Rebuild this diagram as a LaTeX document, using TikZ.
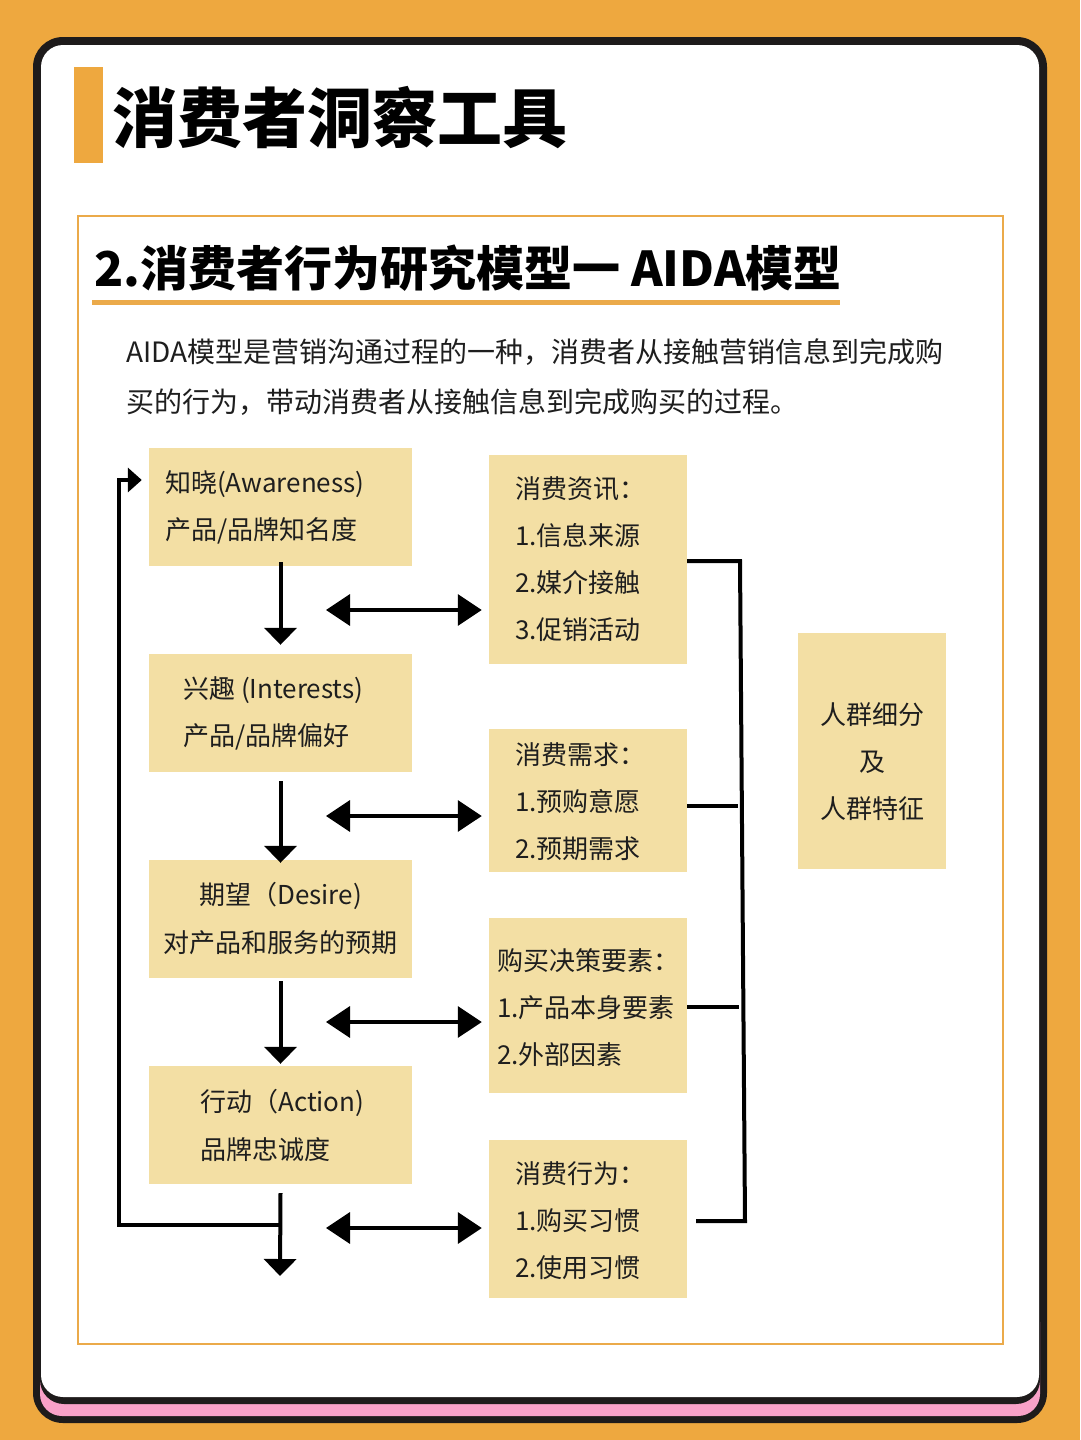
\documentclass[tikz,border=0pt]{standalone}
\usepackage{fontspec}
\setmainfont{Noto Sans CJK SC}
\usetikzlibrary{arrows.meta,calc}
\definecolor{bgorange}{HTML}{EEA83F}
\definecolor{boxfill}{HTML}{F3DFA4}
\definecolor{pinkb}{HTML}{F9A1C8}
\definecolor{cardblack}{HTML}{1E1B1B}
\definecolor{txt}{HTML}{1E1E1E}
\definecolor{lineorange}{HTML}{EBAA4A}
\begin{document}
\begin{tikzpicture}[x=1pt,y=-1pt,
  box/.style={draw=none,fill=boxfill,inner sep=0pt,rectangle},
  lbl/.style={anchor=west,inner sep=0pt,text=txt,font=\fontsize{26}{30}\selectfont},
  clbl/.style={lbl,anchor=center},
  para/.style={anchor=west,inner sep=0pt,text=txt,font=\fontsize{28}{30}\selectfont},
  downarr/.style={line width=4pt,-{Triangle[length=17pt,width=32pt]}},
  dblarr/.style={line width=3.5pt,{Triangle[length=24pt,width=31pt]}-{Triangle[length=24pt,width=31pt]}},
  backarr/.style={line width=4pt,-{Triangle[length=14pt,width=24pt]}},
  brk/.style={line width=4pt}]
% background
\fill[bgorange] (0,0) rectangle (1080,1440);
\useasboundingbox (0,0) rectangle (1080,1440);
% card
\fill[cardblack,rounded corners=30pt] (33,37) rectangle (1047,1423);
\fill[pinkb,rounded corners=22pt] (40,1300) rectangle (1040,1416);
\fill[cardblack,rounded corners=24pt] (40,44) rectangle (1040,1404);
\fill[white,rounded corners=22pt] (41,45) rectangle (1039,1397);
% title
\fill[bgorange] (74,67) rectangle (103,163);
\node[anchor=west,inner sep=0pt,font=\fontsize{65}{70}\selectfont\bfseries] (title) at (112,118) {消费者洞察工具};
% section frame
\draw[lineorange,line width=2.5pt] (78,216) rectangle (1003,1344);
\node[anchor=west,inner sep=0pt,font=\fontsize{48}{52}\selectfont\bfseries] (subtitle) at (94,268) {2.消费者行为研究模型一 AIDA模型};
\draw[lineorange,line width=5pt] (92,302.5) -- (840,302.5);
% paragraph
\node[para] (p1) at (126,352) {AIDA模型是营销沟通过程的一种，消费者从接触营销信息到完成购};
\node[para] (p2) at (126,402) {买的行为，带动消费者从接触信息到完成购买的过程。};
% left boxes
\node[box,minimum width=263pt,minimum height=118pt] (bA) at (280.5,507) {};
\node[box,minimum width=263pt,minimum height=118pt] (bI) at (280.5,713) {};
\node[box,minimum width=263pt,minimum height=118pt] (bD) at (280.5,919) {};
\node[box,minimum width=263pt,minimum height=118pt] (bX) at (280.5,1125) {};
% right boxes
\node[box,minimum width=198pt,minimum height=209pt] (r1) at (588,559.5) {};
\node[box,minimum width=198pt,minimum height=143pt] (r2) at (588,800.5) {};
\node[box,minimum width=198pt,minimum height=175pt] (r3) at (588,1005.5) {};
\node[box,minimum width=198pt,minimum height=158pt] (r4) at (588,1219) {};
\node[box,minimum width=148pt,minimum height=236pt] (seg) at (872,751) {};
% left box texts
\node[lbl] (tA1) at (165,484) {知晓(Awareness)};
\node[lbl] (tA2) at (165,531) {产品/品牌知名度};
\node[lbl] (tI1) at (183,690) {兴趣 (Interests)};
\node[lbl] (tI2) at (183,737) {产品/品牌偏好};
\node[clbl] (tD1) at (280.5,896) {期望（Desire)};
\node[clbl] (tD2) at (280.5,943) {对产品和服务的预期};
\node[lbl] (tX1) at (200,1103) {行动（Action)};
\node[lbl] (tX2) at (200,1150) {品牌忠诚度};
% right box texts
\node[lbl] (r1a) at (515,489) {消费资讯：};
\node[lbl] (r1b) at (515,536) {1.信息来源};
\node[lbl] (r1c) at (515,583) {2.媒介接触};
\node[lbl] (r1d) at (515,630) {3.促销活动};
\node[lbl] (r2a) at (515,755) {消费需求：};
\node[lbl] (r2b) at (515,802) {1.预购意愿};
\node[lbl] (r2c) at (515,849) {2.预期需求};
\node[lbl] (r3a) at (497,961) {购买决策要素：};
\node[lbl] (r3b) at (497,1008) {1.产品本身要素};
\node[lbl] (r3c) at (497,1055) {2.外部因素};
\node[lbl] (r4a) at (515,1174) {消费行为：};
\node[lbl] (r4b) at (515,1221) {1.购买习惯};
\node[lbl] (r4c) at (515,1268) {2.使用习惯};
\node[clbl] (s1) at (872,715) {人群细分};
\node[clbl] (s2) at (872,762) {及};
\node[clbl] (s3) at (872,809) {人群特征};
% down arrows
\draw[downarr] ([yshift=4pt]bA.south) -- ([yshift=9pt]bI.north);
\draw[downarr] ([yshift=-9pt]bI.south) -- ([yshift=-3pt]bD.north);
\draw[downarr] ([yshift=-3pt]bD.south) -- ([yshift=2pt]bX.north);
\coordinate (endtip) at (280,1276);
\draw[downarr] ([yshift=-9pt]bX.south) -- (endtip);
% double arrows
\coordinate (h1) at (326,610);
\coordinate (h2) at (326,816);
\coordinate (h3) at (326,1022);
\coordinate (h4) at (326,1228);
\draw[dblarr,shorten >=7pt] (h1) -- (h1 -| r1.west);
\draw[dblarr,shorten >=7pt] (h2) -- (h2 -| r2.west);
\draw[dblarr,shorten >=7pt] (h3) -- (h3 -| r3.west);
\draw[dblarr,shorten >=7pt] (h4) -- (h4 -| r4.west);
% feedback loop
\coordinate (fb) at (280,1225);
\draw[backarr,shorten >=7pt] (fb) -- (119,1225) -- (119,480) -- (bA.west |- 0,480);
% bracket
\coordinate (bt) at (740,561);
\coordinate (bb) at (745,1221);
\draw[brk] (r1.east |- bt) -- (bt) -- (bb) -- (696,1221);
\draw[brk] (r2.east |- 0,806) -- (738,806);
\draw[brk] (r3.east |- 0,1007) -- (739,1007);
\end{tikzpicture}
\end{document}
